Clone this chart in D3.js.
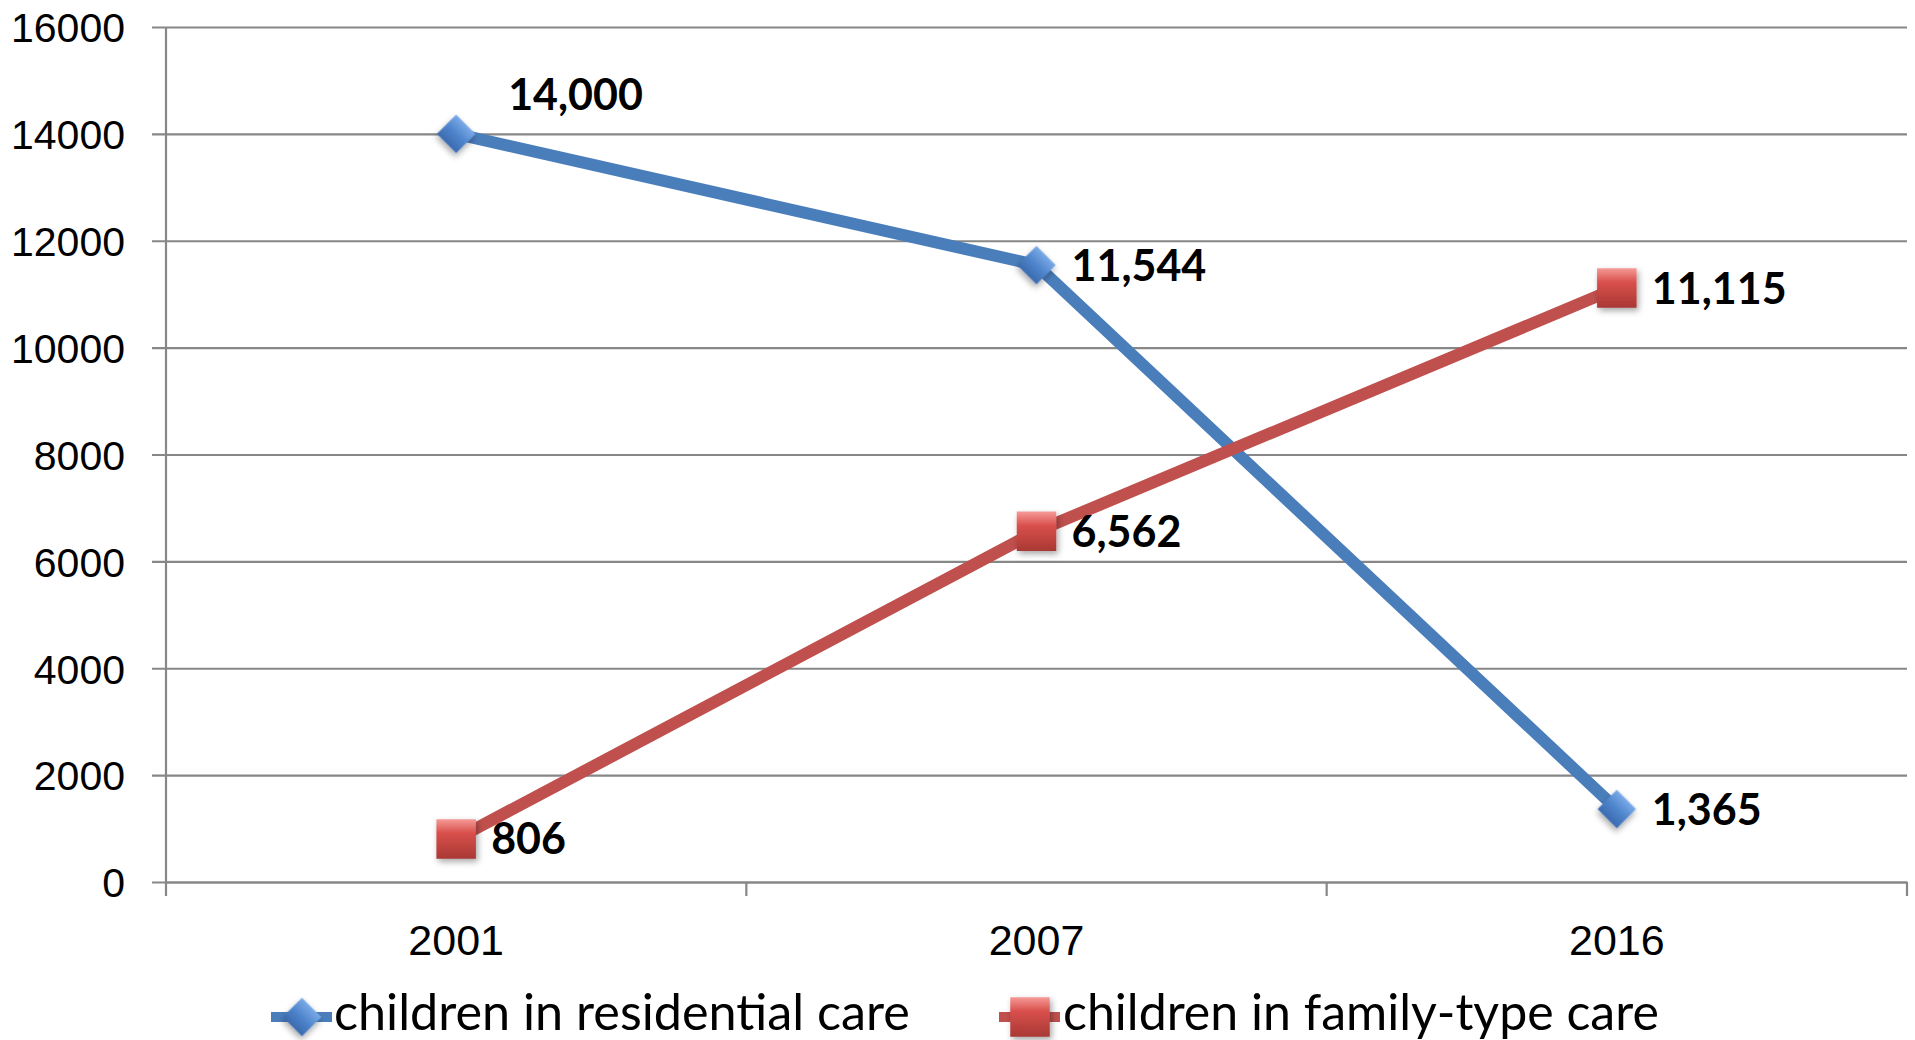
<!DOCTYPE html>
<html>
<head>
<meta charset="utf-8">
<script src="https://cdn.jsdelivr.net/npm/d3@7"></script>
<style>
  html, body { margin: 0; padding: 0; background: #fff; overflow: hidden; }
  svg { display: block; font-family: Lato, "Noto Sans", sans-serif; }
</style>
</head>
<body>
<div id="chart"></div>
<script>
// chart data
const years = ["2001", "2007", "2016"];
const residential = [14000, 11544, 1365];
const familyType = [806, 6562, 11115];
const seriesNames = ["children in residential care", "children in family-type care"];
const yTicks = [0, 2000, 4000, 6000, 8000, 10000, 12000, 14000, 16000];

const W = 1915, H = 1040;
const plot = { left: 166, right: 1907, top: 27, bottom: 882 };

const svg = d3.select("#chart").append("svg")
    .attr("width", W)
    .attr("height", H);

// gradients + shadow for the markers
const defs = svg.append("defs");
const blueGrad = defs.append("linearGradient").attr("id", "blueGrad")
    .attr("x1", 0).attr("y1", 0).attr("x2", 0).attr("y2", 1);
blueGrad.append("stop").attr("offset", "0%").attr("stop-color", "#7aaae8");
blueGrad.append("stop").attr("offset", "50%").attr("stop-color", "#4f85cc");
blueGrad.append("stop").attr("offset", "100%").attr("stop-color", "#3a6aae");
const redGrad = defs.append("linearGradient").attr("id", "redGrad")
    .attr("x1", 0).attr("y1", 0).attr("x2", 0).attr("y2", 1);
redGrad.append("stop").attr("offset", "0%").attr("stop-color", "#f59a97");
redGrad.append("stop").attr("offset", "35%").attr("stop-color", "#d9504c");
redGrad.append("stop").attr("offset", "100%").attr("stop-color", "#a83834");
defs.append("filter").attr("id", "shadow")
    .attr("x", "-40%").attr("y", "-40%").attr("width", "180%").attr("height", "180%")
  .append("feDropShadow")
    .attr("dx", 2).attr("dy", 3).attr("stdDeviation", 3)
    .attr("flood-color", "#000").attr("flood-opacity", 0.35);

// scales
const x = d3.scaleBand().domain(years).range([plot.left, plot.right]).padding(0);
const y = d3.scaleLinear().domain([0, 16000]).range([plot.bottom, plot.top]);
const cx = d => x(d) + x.bandwidth() / 2;

// y axis with gridlines (gridlines stick out 14px to the left of the axis)
const yAxis = svg.append("g")
    .attr("transform", `translate(${plot.left - 14},0)`)
    .call(d3.axisLeft(y)
        .tickValues(yTicks)
        .tickFormat(d3.format("d"))
        .tickSizeInner(-(plot.right - plot.left + 14))
        .tickSizeOuter(0)
        .tickPadding(27));
yAxis.select(".domain").remove();
yAxis.selectAll(".tick line").attr("stroke", "#878787").attr("stroke-width", 2.2);
yAxis.selectAll(".tick text")
    .attr("x", -27)
    .attr("fill", "#000")
    .style("font-size", "41px")
    .attr("dy", "0.36em");

// vertical axis line
svg.append("line")
    .attr("x1", plot.left).attr("x2", plot.left)
    .attr("y1", plot.top).attr("y2", plot.bottom)
    .attr("stroke", "#878787").attr("stroke-width", 2.2);

// x axis: labels at band centers, tick marks at band boundaries
const xAxis = svg.append("g")
    .attr("transform", `translate(0,${plot.bottom})`)
    .call(d3.axisBottom(x).tickSize(0).tickPadding(42));
xAxis.select(".domain").attr("stroke", "#878787").attr("stroke-width", 2.2);
xAxis.selectAll(".tick text")
    .attr("fill", "#000")
    .style("font-size", "43px");
const boundaries = years.map(d => x(d)).concat([x(years[years.length - 1]) + x.bandwidth()]);
xAxis.selectAll(".bound")
    .data(boundaries)
    .enter().append("line")
    .attr("class", "bound")
    .attr("x1", d => d).attr("x2", d => d)
    .attr("y1", 0).attr("y2", 14)
    .attr("stroke", "#878787").attr("stroke-width", 2.2);

const line = d3.line()
    .x((d, i) => cx(years[i]))
    .y(d => y(d));

const diamond = d3.symbol(d3.symbolSquare, 740);
const square = d3.symbol(d3.symbolSquare, 1560);

const series = [
  { values: residential, color: "#4a7ebb", grad: "url(#blueGrad)", marker: diamond, rotate: 45 },
  { values: familyType, color: "#c0504d", grad: "url(#redGrad)", marker: square, rotate: 0 }
];

series.forEach((s, si) => {
  svg.append("path")
      .datum(s.values)
      .attr("d", line)
      .attr("fill", "none")
      .attr("stroke", s.color)
      .attr("stroke-width", 12)
      .attr("stroke-linejoin", "round");

  svg.selectAll(".m" + si)
      .data(s.values)
      .enter().append("path")
      .attr("class", "m" + si)
      .attr("d", s.marker)
      .attr("transform", (d, i) => `translate(${cx(years[i])},${y(d)}) rotate(${s.rotate})`)
      .attr("fill", s.grad)
      .attr("filter", "url(#shadow)");
});

// data labels (the first residential label sits above and to the right of its point)
series.forEach((s, si) => {
  svg.selectAll(".l" + si)
      .data(s.values)
      .enter().append("text")
      .attr("class", "l" + si)
      .attr("x", (d, i) => cx(years[i]) + (si === 0 && i === 0 ? 52 : 35))
      .attr("y", (d, i) => y(d) + (si === 0 && i === 0 ? -39 : 0))
      .attr("dy", "0.36em")
      .attr("fill", "#000")
      .style("font-size", "43px")
      .style("font-weight", "bold")
      .text(d => d3.format(",")(d));
});

// legend
const legendItems = [
  { name: seriesNames[0], s: series[0], lx: 271, tx: 334, tw: 576 },
  { name: seriesNames[1], s: series[1], lx: 999, tx: 1063, tw: 596 }
];
const legendY = 1017;
legendItems.forEach(item => {
  const g = svg.append("g");
  g.append("line")
      .attr("x1", item.lx).attr("x2", item.lx + 61)
      .attr("y1", legendY).attr("y2", legendY)
      .attr("stroke", item.s.color)
      .attr("stroke-width", 10);
  g.append("path")
      .attr("d", item.s.marker)
      .attr("transform", `translate(${item.lx + 31},${legendY}) rotate(${item.s.rotate})`)
      .attr("fill", item.s.grad)
      .attr("filter", "url(#shadow)");
  const t = g.append("text")
      .attr("x", item.tx)
      .attr("y", 1030)
      .attr("fill", "#000")
      .style("font-size", "40px")
      .text(item.name);
  // fit the text width to the reference
  const w = t.node().getComputedTextLength();
  t.style("font-size", (40 * item.tw / w) + "px");
});
</script>
</body>
</html>
